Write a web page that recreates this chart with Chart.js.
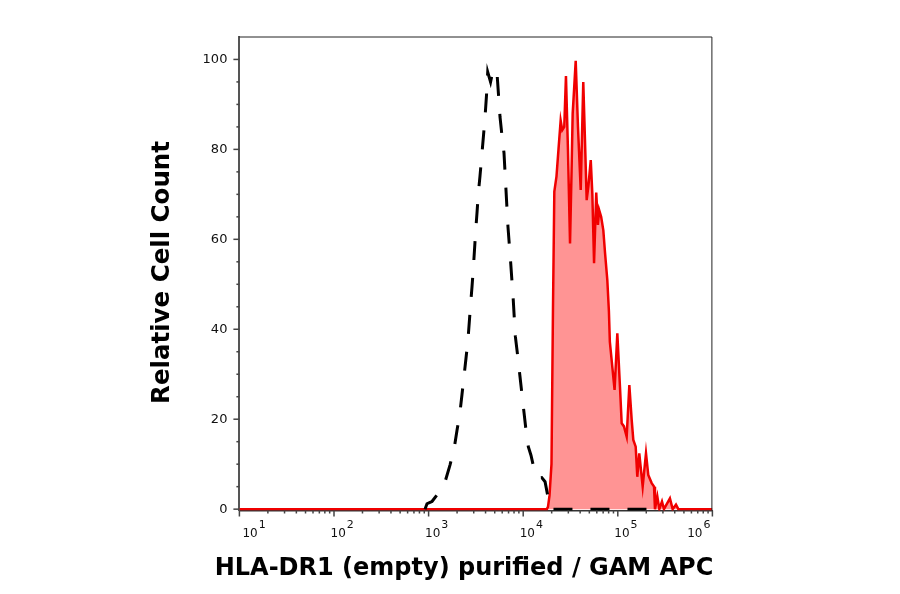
<!DOCTYPE html>
<html>
<head>
<meta charset="utf-8">
<script src="https://cdn.jsdelivr.net/npm/chart.js@4/dist/chart.umd.min.js"></script>
<style>
  html, body { margin: 0; padding: 0; background: #fff; }
  #wrap { width: 900px; height: 594px; }
</style>
</head>
<body>
<div id="wrap"><canvas id="histChart" width="900" height="594"></canvas></div>
<script>
// Histogram values (x in log10 units of fluorescence)
const isotypeLog = [2.962, 2.983, 3.015, 3.036, 3.100, 3.180, 3.226, 3.268, 3.300, 3.331, 3.353, 3.374, 3.395, 3.416,
  3.445, 3.459, 3.472, 3.498, 3.512, 3.526, 3.543, 3.561, 3.580, 3.596, 3.612, 3.625, 3.655, 3.685, 3.715,
  3.726, 3.755, 3.776, 3.797, 3.818, 3.839, 3.868, 3.895, 3.917, 3.945, 3.966, 3.987, 4.009, 4.030, 4.054,
  4.082, 4.125, 4.160, 4.196, 4.231, 4.265, 4.289, 5.393];
const isotypeCount = [0, 1.2, 1.5, 1.7, 3.5, 6.5, 9.8, 13.2, 17.5, 21.4, 25.5, 29.5, 33.5, 37.6,
  45.8, 49.5, 53.2, 62, 66, 70.3, 74, 78.4, 83, 87, 92, 97.2, 95, 98, 96.5,
  96.1, 87.2, 83, 79.2, 71, 62.8, 54.7, 46.5, 38.4, 33.5, 29.5, 25.5, 21.4, 17.5, 13.9,
  12, 8, 6.9, 7, 6.1, 2.4, 0, 0];

const stainedLog = [1.0, 4.250, 4.262, 4.278, 4.299, 4.315, 4.329, 4.352, 4.373, 4.396, 4.413, 4.434, 4.452,
  4.473, 4.495, 4.511, 4.523, 4.537, 4.555, 4.579, 4.608, 4.635, 4.653, 4.671, 4.690, 4.714, 4.731,
  4.749, 4.772, 4.790, 4.803, 4.824, 4.847, 4.865, 4.889, 4.906, 4.916, 4.966, 4.995, 5.023, 5.041,
  5.065, 5.094, 5.122, 5.147, 5.164, 5.189, 5.206, 5.227, 5.263, 5.298, 5.322, 5.358, 5.383, 5.393,
  5.418, 5.439, 5.467, 5.488, 5.551, 5.580, 5.615, 5.640, 6.0];
const stainedCount = [0, 0, 0.5, 3, 10, 45, 70.6, 74, 80, 86.4, 84.3, 85, 96.3,
  80, 59.1, 75, 88, 93, 99.7, 85, 71, 95, 82, 68.7, 72, 77.6, 70,
  54.7, 70.4, 63.2, 66.5, 65, 62, 57, 51, 44, 37.2, 26.5, 39.1, 27.2, 19.1,
  18.4, 16.1, 27.6, 19.8, 15.4, 13.9, 7.2, 12.4, 5.0, 12.4, 7.6, 5.8, 5.0, 0,
  2.8, 0, 1.7, 0, 2.4, 0, 1, 0, 0];

const yTickValues = [0, 5, 10, 15, 20, 25, 30, 35, 40, 45, 50, 55, 60, 65, 70, 75, 80, 85, 90, 95, 100];
const xDecades = [1, 2, 3, 4, 5, 6];

const xTitle = 'HLA-DR1 (empty) purified / GAM APC';
const yTitle = 'Relative Cell Count';

const sup = { 1: '1', 2: '2', 3: '3', 4: '4', 5: '5', 6: '6' };

// draws tick marks, decade labels, frame and axis titles
const axisDecor = {
  id: 'axisDecor',
  afterDraw(chart) {
    const { ctx, chartArea: a, scales: { x, y } } = chart;
    ctx.save();

    // thin frame on top and right
    ctx.strokeStyle = '#222';
    ctx.lineWidth = 1;
    ctx.beginPath();
    ctx.moveTo(a.left, a.top + 0.5);
    ctx.lineTo(a.right - 0.5, a.top + 0.5);
    ctx.lineTo(a.right - 0.5, a.bottom);
    ctx.stroke();

    // y ticks
    ctx.strokeStyle = '#444';
    ctx.lineWidth = 1.5;
    y.ticks.forEach(t => {
      const py = y.getPixelForValue(t.value);
      const len = t.value % 20 === 0 ? 6 : 3;
      ctx.beginPath();
      ctx.moveTo(a.left - len, py);
      ctx.lineTo(a.left, py);
      ctx.stroke();
    });

    // x ticks, log minor ticks between decades
    xDecades.forEach((d, i) => {
      const steps = i < xDecades.length - 1 ? 9 : 1;
      for (let k = 1; k <= steps; k++) {
        const px = x.getPixelForValue(d + Math.log10(k));
        const len = k === 1 ? 6 : 3;
        ctx.beginPath();
        ctx.moveTo(px, a.bottom);
        ctx.lineTo(px, a.bottom + len);
        ctx.stroke();
      }
    });

    // decade labels 10^n
    ctx.fillStyle = '#111';
    ctx.textBaseline = 'alphabetic';
    ctx.textAlign = 'left';
    xDecades.forEach(d => {
      const px = x.getPixelForValue(d);
      ctx.font = '12px "DejaVu Sans"';
      const wBase = ctx.measureText('10').width;
      ctx.font = '11px "DejaVu Sans"';
      const wExp = ctx.measureText(sup[d]).width;
      let left = px - 3.5;
      left = Math.max(left, a.left + 3);
      left = Math.min(left, a.right - 2 - wBase - 1 - wExp);
      ctx.font = '12px "DejaVu Sans"';
      ctx.fillText('10', left, 537);
      ctx.font = '11px "DejaVu Sans"';
      ctx.fillText(sup[d], left + wBase + 1, 527.5);
    });

    // axis titles
    ctx.fillStyle = '#000';
    ctx.font = 'bold 24px "DejaVu Sans"';
    ctx.textAlign = 'center';
    ctx.fillText(xTitle, 464, 575);

    ctx.translate(169, 272.5);
    ctx.rotate(-Math.PI / 2);
    ctx.font = 'bold 24.5px "DejaVu Sans"';
    ctx.fillText(yTitle, 0, 0);
    ctx.restore();
  }
};

const ctx = document.getElementById('histChart').getContext('2d');
new Chart(ctx, {
  type: 'line',
  data: {
    datasets: [
      {
        label: 'Isotype control',
        data: isotypeLog.map((e, i) => ({ x: e, y: isotypeCount[i] })),
        borderColor: '#000',
        borderWidth: 3,
        borderDash: [19, 18],
        pointRadius: 0,
        tension: 0,
        fill: false
      },
      {
        label: 'HLA-DR1 (empty)',
        data: stainedLog.map((e, i) => ({ x: e, y: stainedCount[i] })),
        borderColor: '#f00000',
        borderWidth: 2.5,
        backgroundColor: 'rgba(255, 0, 0, 0.42)',
        pointRadius: 0,
        tension: 0,
        fill: 'origin'
      }
    ]
  },
  options: {
    responsive: false,
    animation: false,
    layout: {
      padding: { left: 0, top: 36.5, right: 187.6, bottom: 0 }
    },
    scales: {
      x: {
        type: 'linear',
        min: 1,
        max: 6,
        grid: { display: false, drawTicks: false },
        border: { display: true, color: '#333', width: 1.5 },
        ticks: { display: false },
        afterFit: scale => { scale.height = 83.5; }
      },
      y: {
        min: -0.3,
        max: 105.1,
        grid: { display: false, drawTicks: true, tickLength: 6 },
        border: { display: true, color: '#555', width: 2 },
        afterBuildTicks: scale => { scale.ticks = yTickValues.map(v => ({ value: v })); },
        afterFit: scale => { scale.width = 239.4; },
        ticks: {
          autoSkip: false,
          padding: 6,
          color: '#111',
          font: { family: 'DejaVu Sans', size: 13 },
          callback: v => (v % 20 === 0 ? String(v) : '')
        }
      }
    },
    plugins: {
      legend: { display: false },
      tooltip: { enabled: false }
    }
  },
  plugins: [axisDecor]
});
</script>
</body>
</html>
